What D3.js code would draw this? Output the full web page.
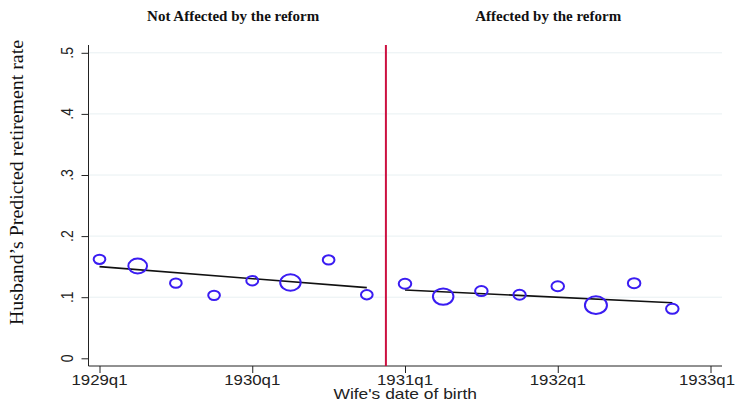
<!DOCTYPE html>
<html><head><meta charset="utf-8">
<script src="https://cdn.jsdelivr.net/npm/d3@7"></script>
<style>html,body{margin:0;padding:0;background:#fff;}svg{display:block;}</style>
</head><body>
<svg id="c" width="736" height="401"></svg>
<script>
// ---- data ----
const tickQuarters = [0, 4, 8, 12, 16];
const tickLabels = ["1929q1", "1930q1", "1931q1", "1932q1", "1933q1"];
const yTicks = [0, 0.1, 0.2, 0.3, 0.4, 0.5];
const yTickLabels = ["0", ".1", ".2", ".3", ".4", ".5"];
const leftQuarters = [0, 1, 2, 3, 4, 5, 6, 7];
const leftValues = [0.162, 0.151, 0.123, 0.103, 0.127, 0.124, 0.161, 0.104];
const leftWeights = [27, 69, 27, 27, 28, 83, 27, 27];
const rightQuarters = [8, 9, 10, 11, 12, 13, 14, 15];
const rightValues = [0.122, 0.101, 0.110, 0.104, 0.118, 0.087, 0.123, 0.081];
const rightWeights = [31, 83, 31, 30, 31, 96, 31, 31];
const leftFit = [0.150, 0.1156];
const rightFit = [0.1118, 0.0910];
const reformQuarter = 7.5;
const titles = ["Not Affected by the reform", "Affected by the reform"];
const titleQuarters = [3.5, 11.75];

// ---- drawing ----
const W = 736;
const svg = d3.select("#c");
const x = d3.scaleLinear().domain([0, 16]).range([99.5, 710.5]);
const y = d3.scaleLinear().domain([0, 0.5]).range([358.3, 52.8]);
const ry = d3.scaleSqrt().domain([0, 100]).range([0, 9]);
const stretch = 1.25;
const sansFont = "'Liberation Sans', Arial, sans-serif";
const serifFont = "'Liberation Serif', 'Times New Roman', serif";
const axisLeftX = 88.5, axisBottomY = 366, plotTop = 45, plotRight = 722;

// gridlines
svg.append("g").selectAll("line").data(yTicks.slice(1)).join("line")
  .attr("x1", axisLeftX).attr("x2", plotRight)
  .attr("y1", d => y(d)).attr("y2", d => y(d))
  .attr("stroke", "#e8f0f2").attr("stroke-width", 1);

// y axis
const yAxis = svg.append("g").attr("transform", `translate(${axisLeftX},0)`)
  .call(d3.axisLeft(y).tickValues(yTicks).tickSize(7).tickFormat(""));
yAxis.select(".domain").remove();
yAxis.selectAll(".tick line").attr("stroke", "#222");
svg.append("line").attr("x1", axisLeftX).attr("x2", axisLeftX)
  .attr("y1", plotTop).attr("y2", axisBottomY).attr("stroke", "#222");
svg.append("g").selectAll("text").data(yTicks).join("text")
  .attr("transform", d => `translate(73,${y(d)}) scale(1.15,1) rotate(-90)`)
  .attr("text-anchor", "middle")
  .attr("font-family", sansFont).attr("font-size", 14).attr("fill", "#222")
  .text((d, i) => yTickLabels[i]);

// x axis
const xAxis = svg.append("g").attr("transform", `translate(0,${axisBottomY})`)
  .call(d3.axisBottom(x).tickValues(tickQuarters).tickSize(7).tickFormat(""));
xAxis.select(".domain").remove();
xAxis.selectAll(".tick line").attr("stroke", "#222");
svg.append("line").attr("x1", axisLeftX).attr("x2", plotRight)
  .attr("y1", axisBottomY).attr("y2", axisBottomY).attr("stroke", "#222");
const xLabels = svg.append("g").selectAll("text").data(tickQuarters).join("text")
  .attr("text-anchor", "middle")
  .attr("font-family", sansFont).attr("font-size", 15).attr("fill", "#222")
  .text((d, i) => tickLabels[i]);
xLabels.each(function(d) {
  const half = this.getComputedTextLength() * 1.12 / 2;
  const cx = Math.min(x(d), W - 1 - half);
  d3.select(this).attr("transform", `translate(${cx},385) scale(1.12,1)`);
});

svg.append("text")
  .attr("transform", `translate(${(axisLeftX + plotRight) / 2},399) scale(1.16,1)`)
  .attr("text-anchor", "middle")
  .attr("font-family", sansFont).attr("font-size", 15).attr("fill", "#222")
  .text("Wife's date of birth");

// y title
svg.append("text")
  .attr("transform", `translate(23,182.5) rotate(-90)`)
  .attr("text-anchor", "middle")
  .attr("font-family", serifFont).attr("font-size", 19).attr("fill", "#111")
  .attr("textLength", 285).attr("lengthAdjust", "spacingAndGlyphs")
  .text("Husband\u2019s Predicted retirement rate");

// panel titles
svg.append("g").selectAll("text").data(titles).join("text")
  .attr("x", (d, i) => x(titleQuarters[i])).attr("y", 20.5)
  .attr("text-anchor", "middle")
  .attr("font-family", serifFont).attr("font-weight", "bold").attr("font-size", 15)
  .attr("fill", "#111")
  .text(d => d);

// reform line
svg.append("line")
  .attr("x1", x(reformQuarter)).attr("x2", x(reformQuarter))
  .attr("y1", plotTop).attr("y2", axisBottomY)
  .attr("stroke", "#cc1040").attr("stroke-width", 2);

// fit lines
function fitLine(qs, fit) {
  svg.append("line")
    .attr("x1", x(qs[0])).attr("x2", x(qs[qs.length - 1]))
    .attr("y1", y(fit[0])).attr("y2", y(fit[1]))
    .attr("stroke", "#111").attr("stroke-width", 1.6);
}
fitLine(leftQuarters, leftFit);
fitLine(rightQuarters, rightFit);

// markers
function markers(qs, vals, ws) {
  svg.append("g").selectAll("ellipse").data(qs).join("ellipse")
    .attr("cx", d => x(d))
    .attr("cy", (d, i) => y(vals[i]))
    .attr("ry", (d, i) => ry(ws[i]))
    .attr("rx", (d, i) => ry(ws[i]) * stretch)
    .attr("fill", "none")
    .attr("stroke", "#3a1cf2").attr("stroke-width", 2);
}
markers(leftQuarters, leftValues, leftWeights);
markers(rightQuarters, rightValues, rightWeights);
</script>
</body></html>
